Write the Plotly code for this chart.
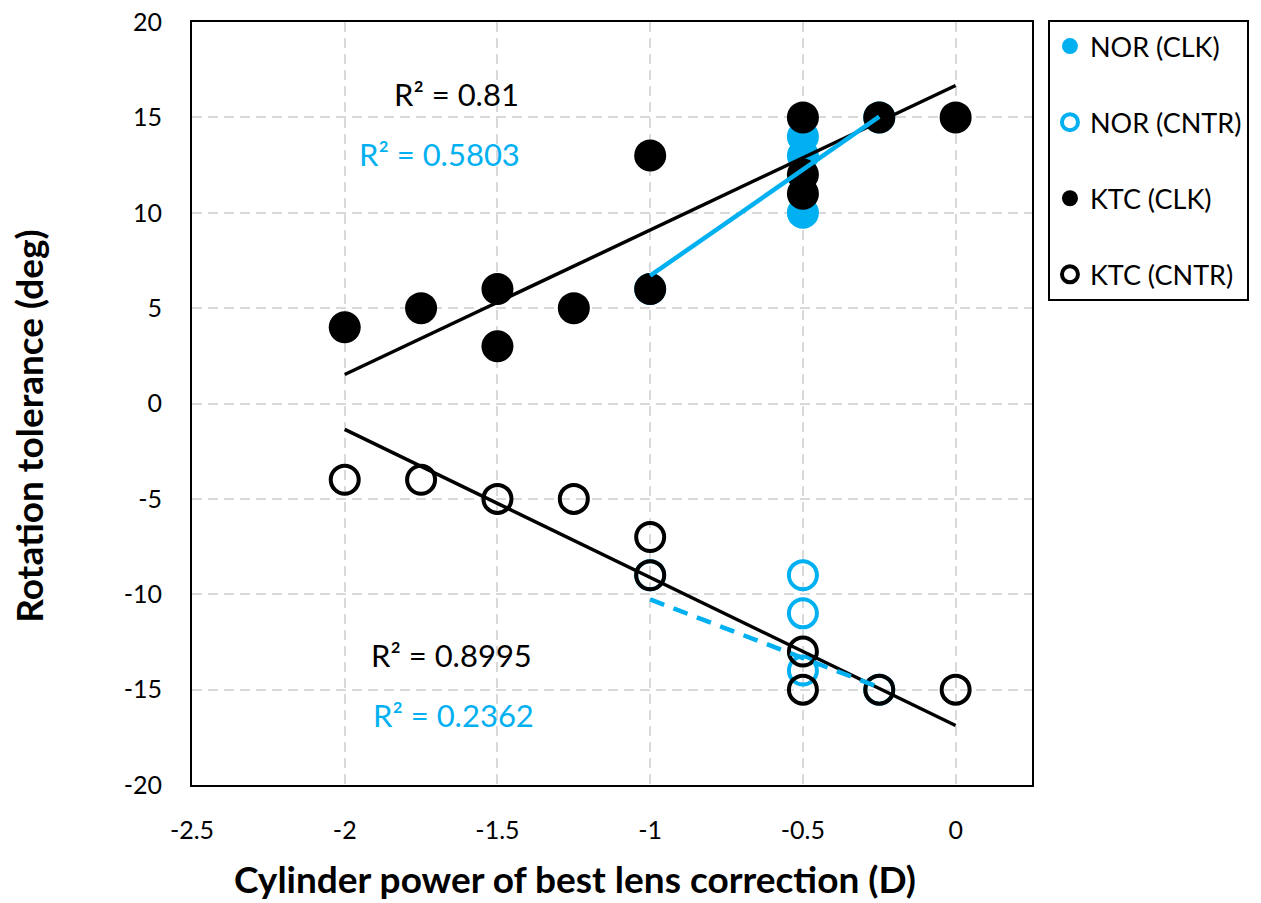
import plotly.graph_objects as go

# ---- data ----
nor_clk_x = [-1.0, -0.5, -0.5, -0.5, -0.25]
nor_clk_y = [6, 14, 13, 10, 15]
nor_cntr_x = [-1.0, -0.5, -0.5, -0.5, -0.25]
nor_cntr_y = [-9, -9, -11, -14, -15]
ktc_clk_x = [-2.0, -1.75, -1.5, -1.5, -1.25, -1.0, -1.0, -0.5, -0.5, -0.5, -0.25, 0.0]
ktc_clk_y = [4, 5, 6, 3, 5, 13, 6, 15, 12, 11, 15, 15]
ktc_cntr_x = [-2.0, -1.75, -1.5, -1.25, -1.0, -1.0, -0.5, -0.5, -0.25, 0.0]
ktc_cntr_y = [-4, -4, -5, -5, -7, -9, -13, -15, -15, -15]

# linear trendlines (end points)
trend_ktc_clk_x = [-2.0, 0.0]
trend_ktc_clk_y = [1.52, 16.67]
trend_ktc_cntr_x = [-2.0, 0.0]
trend_ktc_cntr_y = [-1.36, -16.88]
trend_nor_clk_x = [-1.0, -0.25]
trend_nor_clk_y = [6.7, 15.04]
trend_nor_cntr_x = [-1.0, -0.25]
trend_nor_cntr_y = [-10.27, -14.88]

r2_labels = ["R² = 0.81", "R² = 0.5803", "R² = 0.8995", "R² = 0.2362"]
r2_x = [-1.635, -1.69, -1.65, -1.645]
r2_y = [16.25, 13.1, -13.2, -16.35]

x_ticks = [-2.5, -2, -1.5, -1, -0.5, 0]
x_ticktext = ["-2.5", "-2", "-1.5", "-1", "-0.5", "0"]
y_ticks = [-20, -15, -10, -5, 0, 5, 10, 15, 20]
y_ticktext = ["-20", "-15", "-10", "-5", "0", "5", "10", "15", "20"]

x_title = "Cylinder power of best lens correction (D)"
y_title = "Rotation tolerance (deg)"

BLUE = "#00B0F0"
BLACK = "#000000"
FONT = "Lato, 'Open Sans', sans-serif"

fig = go.Figure()

fig.add_trace(go.Scatter(x=nor_clk_x, y=nor_clk_y, mode="markers", name="NOR (CLK)",
                         legendgroup="a",
                         marker=dict(symbol="circle", size=32, color=BLUE, line=dict(width=0))))
fig.add_trace(go.Scatter(x=nor_cntr_x, y=nor_cntr_y, mode="markers", name="NOR (CNTR)",
                         legendgroup="b",
                         marker=dict(symbol="circle-open", size=28, color=BLUE, line=dict(width=4, color=BLUE))))
fig.add_trace(go.Scatter(x=ktc_clk_x, y=ktc_clk_y, mode="markers", name="KTC (CLK)",
                         legendgroup="c",
                         marker=dict(symbol="circle", size=32, color=BLACK, line=dict(width=0))))
fig.add_trace(go.Scatter(x=ktc_cntr_x, y=ktc_cntr_y, mode="markers", name="KTC (CNTR)",
                         legendgroup="d",
                         marker=dict(symbol="circle-open", size=28, color=BLACK, line=dict(width=4, color=BLACK))))

fig.add_trace(go.Scatter(x=trend_ktc_clk_x, y=trend_ktc_clk_y, mode="lines", showlegend=False,
                         line=dict(color=BLACK, width=3.5), hoverinfo="skip"))
fig.add_trace(go.Scatter(x=trend_ktc_cntr_x, y=trend_ktc_cntr_y, mode="lines", showlegend=False,
                         line=dict(color=BLACK, width=3.5), hoverinfo="skip"))
fig.add_trace(go.Scatter(x=trend_nor_clk_x, y=trend_nor_clk_y, mode="lines", showlegend=False,
                         line=dict(color=BLUE, width=4.5), hoverinfo="skip"))
fig.add_trace(go.Scatter(x=trend_nor_cntr_x, y=trend_nor_cntr_y, mode="lines", showlegend=False,
                         line=dict(color=BLUE, width=4.5, dash="15px,10px"), hoverinfo="skip"))

r2_colors = [BLACK, BLUE, BLACK, BLUE]
for t, x, y, c in zip(r2_labels, r2_x, r2_y, r2_colors):
    fig.add_annotation(x=x, y=y, text=t, showarrow=False, xref="x", yref="y",
                       font=dict(family=FONT, size=31, color=c))

# axis titles (placed as in the reference, centred on the chart area)
fig.add_annotation(text=f"<b>{x_title}</b>", xref="paper", yref="paper",
                   x=0.456, y=-0.1225, xanchor="center", yanchor="middle", showarrow=False,
                   font=dict(family=FONT, size=37, color="black"))
fig.add_annotation(text=f"<b>{y_title}</b>", xref="paper", yref="paper",
                   x=-0.195, y=0.471, xanchor="center", yanchor="middle", showarrow=False,
                   textangle=-90, font=dict(family=FONT, size=37, color="black"))

fig.update_layout(
    width=1261, height=903,
    margin=dict(l=192, r=227, t=22, b=118),
    paper_bgcolor="white", plot_bgcolor="white",
    font=dict(family=FONT, size=25, color="black"),
    showlegend=True,
    legend=dict(x=1.0190, y=1.0026, xanchor="left", yanchor="top",
                bordercolor="black", borderwidth=2, bgcolor="white",
                font=dict(family=FONT, size=27, color="black"),
                tracegroupgap=38, traceorder="grouped", itemsizing="trace"),
)

fig.update_xaxes(range=[-2.5, 0.25], tickvals=x_ticks, ticktext=x_ticktext,
                 showgrid=True, gridcolor="#D9D9D9", gridwidth=2, griddash="10px,6px",
                 zeroline=False, showline=True, linecolor="black", linewidth=2, mirror=True,
                 ticks="", ticklabelstandoff=22,
                 tickfont=dict(family=FONT, size=25), automargin=False)
fig.update_yaxes(range=[-20, 20], tickvals=y_ticks, ticktext=y_ticktext,
                 showgrid=True, gridcolor="#D9D9D9", gridwidth=2, griddash="10px,6px",
                 zeroline=False, showline=True, linecolor="black", linewidth=2, mirror=True,
                 ticks="", ticklabelstandoff=23,
                 tickfont=dict(family=FONT, size=25), automargin=False)

fig.write_html("out.html")
